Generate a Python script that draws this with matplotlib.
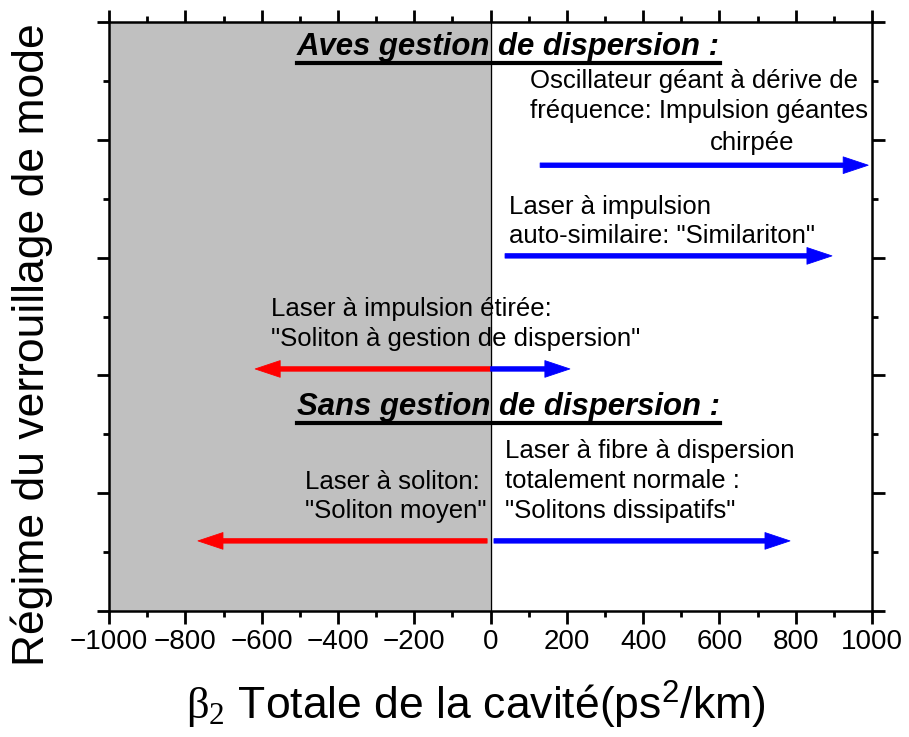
import numpy as np
import matplotlib.pyplot as plt
from matplotlib.lines import Line2D
from matplotlib.ticker import MultipleLocator

plt.rcParams['font.family'] = ['Liberation Sans', 'DejaVu Sans']
plt.rcParams['mathtext.fontset'] = 'custom'
plt.rcParams['mathtext.rm'] = 'Liberation Serif'
plt.rcParams['mathtext.sf'] = 'Liberation Sans'

# ----------------------------------
# Data
# ----------------------------------
X_TICKS = [-1000, -800, -600, -400, -200, 0, 200, 400, 600, 800, 1000]

# regime arrows: start, end (beta2, ps^2/km) and height on the regime axis
arrow_start = [130, 38, 0, 0, -9, 9]
arrow_end = [990, 895, -617, 208, -767, 785]
arrow_level = [7.57, 6.03, 4.11, 4.11, 1.19, 1.19]
arrow_color = ['blue', 'blue', 'red', 'blue', 'red', 'blue']

headers = ["Aves gestion de dispersion :", "Sans gestion de dispersion :"]
header_x = [46, 46]
header_y = [9.58, 3.46]

labels = [
    "Oscillateur géant à dérive de\nfréquence: Impulsion géantes",
    "chirpée",
    "Laser à impulsion\nauto-similaire: \"Similariton\"",
    "Laser à impulsion étirée:\n\"Soliton à gestion de dispersion\"",
    "Laser à soliton:\n\"Soliton moyen\"",
    "Laser à fibre à dispersion\ntotalement normale :\n\"Solitons dissipatifs\"",
]
label_x = [104, 575, 48, -575, -486, 38]
label_y = [8.745, 7.95, 6.615, 4.87, 1.945, 2.21]

# ----------------------------------
# Figure
# ----------------------------------
fig = plt.figure(figsize=(9.09, 7.37), dpi=100)
ax = fig.add_axes([0.12, 0.171, 0.8393, 0.799])
ax.set_xlim(-1000, 1000)
ax.set_ylim(0, 10)

# anomalous dispersion side shaded
ax.axvspan(-1000, 0, color='#c0c0c0', zorder=0)
ax.axvline(0, color='black', lw=0.9, zorder=1)

for x0, x1, y, c in zip(arrow_start, arrow_end, arrow_level, arrow_color):
    ax.annotate("", xy=(x1, y), xytext=(x0, y),
                arrowprops=dict(arrowstyle="simple,head_length=0.9,head_width=0.6,tail_width=0.16",
                                mutation_scale=20, fc=c, ec=c, lw=0.6,
                                shrinkA=0, shrinkB=0), zorder=3)

for txt, x, y in zip(labels, label_x, label_y):
    ax.text(x, y, txt, fontsize=18.5, ha='left', va='center',
            linespacing=1.3, zorder=4)

head_objs = []
for txt, x, y in zip(headers, header_x, header_y):
    head_objs.append(ax.text(x, y, txt, fontsize=22.4, fontweight='bold',
                             fontstyle='italic', ha='center', va='center',
                             zorder=4))

ax.set_xticks(X_TICKS)
ax.xaxis.set_minor_locator(MultipleLocator(100))
ax.yaxis.set_major_locator(MultipleLocator(2))
ax.yaxis.set_minor_locator(MultipleLocator(1))
ax.tick_params(which='both', direction='out', top=True, right=True,
               labelleft=False, width=2, labelsize=20)
ax.tick_params(which='major', length=9)
ax.tick_params(which='minor', length=4.5)
ax.tick_params(axis='x', pad=4)
for sp in ax.spines.values():
    sp.set_linewidth(1.8)

ax.set_xlabel(r"$\mathrm{\beta_2}$ Totale de la cavité(ps$^{\mathsf{2}}$/km)",
              fontsize=32)
ax.set_ylabel("Régime du verrouillage de mode", fontsize=32)
ax.xaxis.set_label_coords(0.48, -0.115)
ax.yaxis.set_label_coords(-0.074, 0.452)

# underline the two bold headers
fig.canvas.draw()
inv = fig.transFigure.inverted()
for t in head_objs:
    bb = t.get_window_extent().transformed(inv)
    fig.add_artist(Line2D([bb.x0, bb.x1], [bb.y0 - 0.001, bb.y0 - 0.001],
                          color='black', lw=3, transform=fig.transFigure))

fig.savefig("out.png", dpi=100)
